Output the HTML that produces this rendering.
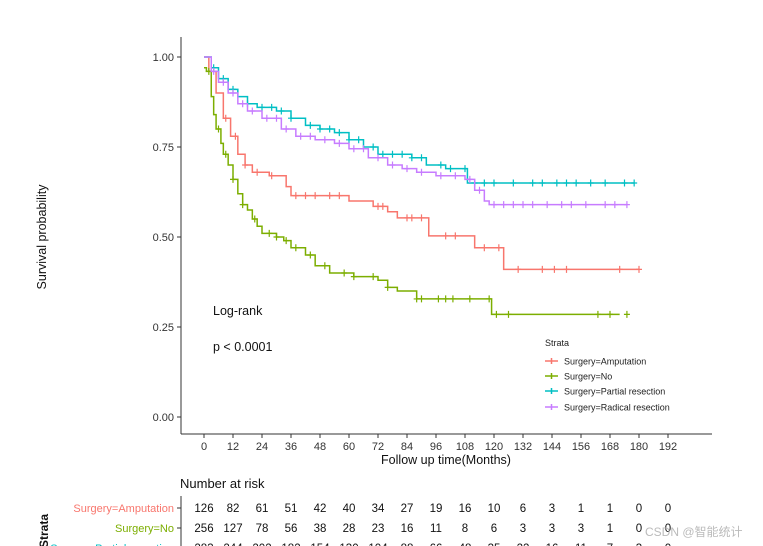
<!DOCTYPE html>
<html><head><meta charset="utf-8"><style>
body{margin:0;background:#fff;}
svg{display:block;font-family:"Liberation Sans","Noto Sans CJK SC",sans-serif;}
</style></head><body>
<svg id="chart" width="763" height="546" viewBox="0 0 763 546">
<g id="axes"></g>
<g id="curves"></g>
<text x="213" y="315" font-size="12.5" fill="#111">Log-rank</text>
<text x="213" y="351" font-size="12.5" fill="#111">p &lt; 0.0001</text>
<text transform="translate(46,237) rotate(-90)" text-anchor="middle" font-size="12.5" fill="#111">Survival probability</text>
<text x="446" y="464" text-anchor="middle" font-size="12.5" fill="#111">Follow up time(Months)</text>
<g id="legend">
<text x="545" y="346" font-size="9" fill="#222">Strata</text>
</g>
<text x="180" y="488" font-size="13" fill="#111">Number at risk</text>
<text transform="translate(48,548) rotate(-90)" font-size="12" font-weight="bold" fill="#111">Strata</text>
<g id="risk"></g>
<text x="645" y="536" font-size="12" fill="#bbb">CSDN @智能统计</text>
</svg>
<script>
const NS="http://www.w3.org/2000/svg";
const xTicks=[0,12,24,36,48,60,72,84,96,108,120,132,144,156,168,180,192];
const yTicks=[0,0.25,0.5,0.75,1.0];
const seriesNames=["Surgery=Amputation","Surgery=No","Surgery=Partial resection","Surgery=Radical resection"];
const colors=["#F8766D","#7CAE00","#00BFC4","#C77CFF"];
const ampT=[0,2,5,8,11,14,17,20,27,34,36,52,60,70,76,80,93,112,124,180];
const ampS=[1,0.96,0.90,0.83,0.78,0.73,0.70,0.68,0.67,0.64,0.615,0.615,0.60,0.585,0.57,0.553,0.503,0.47,0.41,0.41];
const noT=[0,1,3,4,5,7,8,10,12,14,16,18,20,22,24,30,33,36,42,46,52,62,72,76,80,88,119,172];
const noS=[0.97,0.96,0.89,0.84,0.80,0.76,0.73,0.70,0.66,0.62,0.59,0.575,0.55,0.53,0.51,0.50,0.49,0.47,0.45,0.42,0.40,0.39,0.38,0.36,0.35,0.328,0.285,0.285];
const parT=[0,3,6,10,14,18,22,30,36,42,48,54,60,66,72,86,92,100,109,178];
const parS=[1,0.97,0.94,0.91,0.89,0.87,0.86,0.85,0.83,0.81,0.80,0.79,0.77,0.75,0.73,0.72,0.70,0.69,0.65,0.65];
const radT=[0,3,6,10,14,18,24,32,38,46,54,60,68,76,82,88,96,108,112,116,118,175];
const radS=[1,0.96,0.93,0.90,0.87,0.85,0.83,0.80,0.78,0.77,0.76,0.745,0.72,0.70,0.69,0.68,0.67,0.66,0.63,0.60,0.59,0.59];
const ampC=[3,9,13,17,22,28,38,42,46,52,56,72,74,84,86,90,100,104,116,122,130,140,145,150,172,180];
const noC=[2,6,9,12,16,21,27,30,34,38,44,50,58,62,70,76,88,90,97,100,103,110,118,121,126,163,168,175];
const parC=[4,8,12,18,24,28,32,36,44,48,52,56,60,64,70,74,78,82,86,90,98,102,108,112,116,120,128,136,140,146,150,154,160,166,174,178];
const radC=[4,8,12,16,20,26,30,34,40,44,50,56,62,66,72,78,84,90,98,104,110,114,120,124,128,132,136,142,148,152,158,166,170,175];
const riskAmp=[126,82,61,51,42,40,34,27,19,16,10,6,3,1,1,0,0];
const riskNo=[256,127,78,56,38,28,23,16,11,8,6,3,3,3,1,0,0];
const riskPar=[283,244,202,182,154,130,104,88,66,48,35,22,16,11,7,3,0];
const T=[ampT,noT,parT,radT],S=[ampS,noS,parS,radS],C=[ampC,noC,parC,radC];
const riskRows=[riskAmp,riskNo,riskPar];
const X=t=>204+t*29/12, Y=s=>417-s*360;
function mk(tag,attrs,parent,txt){const e=document.createElementNS(NS,tag);for(const k in attrs)e.setAttribute(k,attrs[k]);if(txt!==undefined)e.textContent=txt;parent.appendChild(e);return e;}
const ax=document.getElementById('axes');
let e=mk('line',{x1:181,y1:37,x2:181,y2:434,stroke:'#333','stroke-width':1},ax);

e=mk('line',{x1:181,y1:434,x2:712,y2:434,stroke:'#333','stroke-width':1},ax);

yTicks.forEach(v=>{mk('line',{x1:177,x2:181,y1:Y(v),y2:Y(v),stroke:'#333'},ax);
 e=mk('text',{x:174,y:Y(v)+4,'text-anchor':'end','font-size':11,fill:'#333'},ax,v.toFixed(2));
 });
xTicks.forEach(v=>{mk('line',{x1:X(v),x2:X(v),y1:434,y2:438,stroke:'#333'},ax);
 e=mk('text',{x:X(v),y:450,'text-anchor':'middle','font-size':11,fill:'#333'},ax,v);
 });
const cg=document.getElementById('curves');
function survAt(ts,ss,t){let s=ss[0];for(let i=0;i<ts.length;i++){if(ts[i]<=t)s=ss[i];}return s;}
for(let k=0;k<4;k++){
 const ts=T[k],ss=S[k];let d='M'+X(ts[0])+','+Y(ss[0]);
 for(let i=1;i<ts.length;i++){d+=' H'+X(ts[i])+' V'+Y(ss[i]);}
 e=mk('path',{d:d,fill:'none',stroke:colors[k],'stroke-width':1.5},cg);
 
 
 C[k].forEach(t=>{const x=X(t),y=Y(survAt(ts,ss,t));
  e=mk('path',{d:`M${x-3},${y}H${x+3}M${x},${y-3.5}V${y+3.5}`,stroke:colors[k],'stroke-width':1.2},cg);
  });
}
const lg=document.getElementById('legend');
[361,376,391,407].forEach((y,k)=>{
 mk('path',{d:`M545,${y}H558M551.5,${y-3}V${y+3}`,stroke:colors[k],'stroke-width':1.5},lg);
 e=mk('text',{x:564,y:y+3.5,'font-size':9,fill:'#222'},lg,seriesNames[k]);
 });
const rk=document.getElementById('risk');
mk('line',{x1:181,y1:496,x2:181,y2:546,stroke:'#333'},rk);
[508,528,548].forEach((y,r)=>{
 mk('line',{x1:177,x2:181,y1:y,y2:y,stroke:'#333'},rk);
 e=mk('text',{x:174,y:y+4,'text-anchor':'end','font-size':11,fill:colors[r]},rk,seriesNames[r]);
 
 riskRows[r].forEach((v,i)=>{e=mk('text',{x:X(xTicks[i]),y:y+4,'text-anchor':'middle','font-size':11.5,fill:'#111'},rk,v);
  });
});
</script>
</body></html>
